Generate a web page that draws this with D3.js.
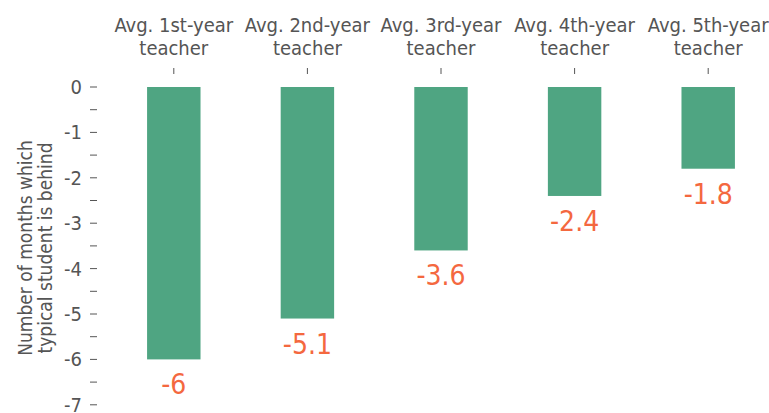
<!DOCTYPE html>
<html>
<head>
<meta charset="utf-8">
<script src="https://cdn.jsdelivr.net/npm/d3@7"></script>
<style>
  body { margin: 0; background: #fff; }
  text { font-family: "Liberation Sans Narrow", "DejaVu Sans Condensed", sans-serif; }
</style>
</head>
<body>
<svg id="chart" width="769" height="413"></svg>
<script>
// Data
var categories = ["Avg. 1st-year teacher", "Avg. 2nd-year teacher", "Avg. 3rd-year teacher",
  "Avg. 4th-year teacher", "Avg. 5th-year teacher"];
var labelLine1 = ["Avg. 1st-year", "Avg. 2nd-year", "Avg. 3rd-year", "Avg. 4th-year", "Avg. 5th-year"];
var labelLine2 = ["teacher", "teacher", "teacher", "teacher", "teacher"];
var values = [-6, -5.1, -3.6, -2.4, -1.8];
var yTicks = [0, -1, -2, -3, -4, -5, -6, -7];
var yMinorTicks = [-0.5, -1.5, -2.5, -3.5, -4.5, -5.5, -6.5];

var svg = d3.select("#chart");
var textColor = "#555";

// scales
var x = d3.scaleBand()
  .domain(categories)
  .range([107, 775])
  .paddingInner(0.6)
  .paddingOuter(0.3);

var y = d3.scaleLinear()
  .domain([0, -7])
  .range([87, 404.8]);

// bars
svg.selectAll("rect.bar")
  .data(values)
  .enter().append("rect")
  .attr("class", "bar")
  .attr("x", function(d, i) { return x(categories[i]); })
  .attr("y", y(0))
  .attr("width", x.bandwidth())
  .attr("height", function(d) { return y(d) - y(0); })
  .style("fill", "#4fa582");

// value labels
svg.selectAll("text.val")
  .data(values)
  .enter().append("text")
  .attr("class", "val")
  .attr("x", function(d, i) { return x(categories[i]) + x.bandwidth() / 2; })
  .attr("y", function(d) { return y(d) + 35; })
  .attr("text-anchor", "middle")
  .style("font-size", "28px")
  .style("fill", "#f4683f")
  .text(function(d) { return d; });

// y axis: major ticks with labels
var yAxis = svg.append("g");
yAxis.selectAll("line.major")
  .data(yTicks.concat(yMinorTicks))
  .enter().append("line")
  .attr("x1", 90).attr("x2", 97)
  .attr("y1", function(d) { return y(d); })
  .attr("y2", function(d) { return y(d); })
  .style("stroke", textColor)
  .style("stroke-width", 1);

yAxis.selectAll("text")
  .data(yTicks)
  .enter().append("text")
  .attr("x", 82)
  .attr("y", function(d) { return y(d); })
  .attr("dy", "0.35em")
  .attr("text-anchor", "end")
  .style("font-size", "20px")
  .style("fill", textColor)
  .text(function(d) { return d; });

// y title
var yTitle = svg.append("text")
  .attr("transform", "translate(32," + 248 + ") rotate(-90)")
  .attr("text-anchor", "middle")
  .style("font-size", "19px")
  .style("fill", textColor);
yTitle.append("tspan").attr("x", 0).attr("dy", 0).text("Number of months which");
yTitle.append("tspan").attr("x", 0).attr("dy", "1.05em").text("typical student is behind");

// top axis: category labels and ticks
var xAxis = svg.append("g");
xAxis.selectAll("line")
  .data(categories)
  .enter().append("line")
  .attr("x1", function(d) { return x(d) + x.bandwidth() / 2; })
  .attr("x2", function(d) { return x(d) + x.bandwidth() / 2; })
  .attr("y1", 68).attr("y2", 74)
  .style("stroke", textColor);

var catText = xAxis.selectAll("text")
  .data(categories)
  .enter().append("text")
  .attr("text-anchor", "middle")
  .style("font-size", "20px")
  .style("fill", textColor);
catText.append("tspan")
  .attr("x", function(d) { return x(d) + x.bandwidth() / 2; })
  .attr("y", 32)
  .text(function(d, i) { return labelLine1[i]; });
catText.append("tspan")
  .attr("x", function(d) { return x(d) + x.bandwidth() / 2; })
  .attr("y", 55)
  .text(function(d, i) { return labelLine2[i]; });
</script>
</body>
</html>
